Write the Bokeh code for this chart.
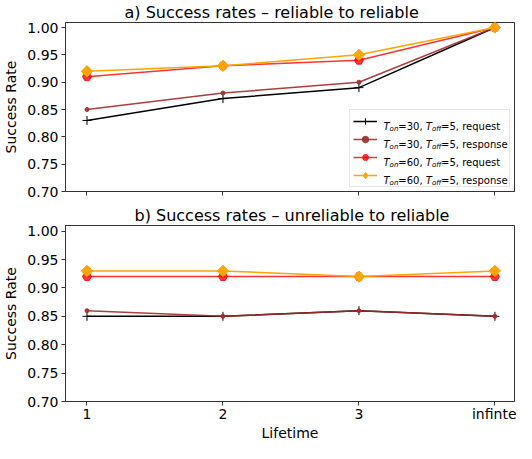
import math
from bokeh.plotting import figure
from bokeh.layouts import column
from bokeh.models import Range1d, FixedTicker, PrintfTickFormatter, Legend, LegendItem, Label
from bokeh.embed import file_html
from bokeh.resources import INLINE

# ---------------- data ----------------
lifetimes = ["1", "2", "3", "infinte"]
y_ticks = [0.70, 0.75, 0.80, 0.85, 0.90, 0.95, 1.00]

# a) reliable to reliable
a_req30 = [0.83, 0.87, 0.89, 1.00]
a_resp30 = [0.85, 0.88, 0.90, 1.00]
a_req60 = [0.91, 0.93, 0.94, 1.00]
a_resp60 = [0.92, 0.93, 0.95, 1.00]

# b) unreliable to reliable
b_req30 = [0.85, 0.85, 0.86, 0.85]
b_resp30 = [0.86, 0.85, 0.86, 0.85]
b_req60 = [0.92, 0.92, 0.92, 0.92]
b_resp60 = [0.93, 0.93, 0.92, 0.93]

t_on = [30, 30, 60, 60]
t_off = [5, 5, 5, 5]
kinds = ["request", "response", "request", "response"]

title_a = "a) Success rates \u2013 reliable to reliable"
title_b = "b) Success rates \u2013 unreliable to reliable"
y_label = "Success Rate"
x_label = "Lifetime"

FONT = "DejaVu Sans"
x_idx = list(range(len(lifetimes)))

styles = [
    dict(color="black", alpha=1.0, marker="cross", size=9, leg=None),
    dict(color="#a52a2a", alpha=0.9, marker="circle", size=4, leg=None),
    dict(color="red", alpha=0.8, marker="hex", size=9, leg=None),
    dict(color="#ffa500", alpha=1.0, marker="square", size=8, leg="diamond"),
]


def make_fig(title, height, b_top, b_bottom, t_offset, y_end, series, show_x):
    p = figure(width=516, height=height, output_backend="svg", toolbar_location=None,
               x_range=Range1d(-0.158, 3.144), y_range=Range1d(0.70, y_end),
               min_border_left=59, min_border_right=2,
               min_border_top=b_top, min_border_bottom=b_bottom)
    p.title.text = title
    p.title.text_font = FONT
    p.title.text_font_size = "16px"
    p.title.text_font_style = "normal"
    p.title.text_color = "black"
    p.title.align = "left"
    p.title.offset = t_offset
    p.title.standoff = 1
    p.xgrid.visible = False
    p.ygrid.visible = False
    p.outline_line_color = "#333333"
    p.outline_line_width = 1
    p.background_fill_color = "white"
    p.border_fill_color = "white"

    for ax in (p.xaxis[0], p.yaxis[0]):
        ax.axis_line_color = "#333333"
        ax.major_tick_line_color = "#333333"
        ax.major_tick_out = 4
        ax.major_tick_in = 0
        ax.minor_tick_out = 0
        ax.minor_tick_in = 0
        ax.major_label_text_font = FONT
        ax.major_label_text_font_size = "14px"
        ax.major_label_text_color = "black"
        ax.axis_label_text_font = FONT
        ax.axis_label_text_font_size = "14px"
        ax.axis_label_text_font_style = "normal"
        ax.axis_label_text_color = "black"

    p.yaxis.ticker = FixedTicker(ticks=y_ticks)
    p.yaxis.formatter = PrintfTickFormatter(format="%.2f")
    p.yaxis.axis_label = y_label
    p.yaxis.major_label_standoff = 3
    p.yaxis.axis_label_standoff = 5

    p.xaxis.ticker = FixedTicker(ticks=x_idx)
    if show_x:
        p.xaxis.major_label_overrides = {i: lab for i, lab in zip(x_idx, lifetimes)}
        p.xaxis.axis_label = x_label
        p.xaxis.major_label_standoff = 0
        p.xaxis.axis_label_standoff = 0
    else:
        p.xaxis.major_label_overrides = {i: "" for i in x_idx}
        p.xaxis.major_label_standoff = 0
        p.xaxis.major_label_text_font_size = "0px"

    items = []
    for ys, st in zip(series, styles):
        ln = p.line(x_idx, ys, line_color=st["color"], line_alpha=st["alpha"], line_width=1.5)
        proxy = None
        if st["leg"]:
            # legend proxy (legend draws markers unrotated); hidden under the real marker
            proxy = p.scatter(x_idx, ys, marker=st["leg"], size=st["size"] + 2,
                              line_color=st["color"], fill_color=st["color"],
                              line_alpha=st["alpha"], fill_alpha=st["alpha"], line_width=1.0)
        angle = math.pi / 4 if st["marker"] == "square" else 0.0
        mk = p.scatter(x_idx, ys, marker=st["marker"], size=st["size"], angle=angle,
                       line_color=st["color"], fill_color=st["color"],
                       line_alpha=st["alpha"], fill_alpha=st["alpha"], line_width=1.0)
        items.append(LegendItem(label=" ", renderers=[ln, proxy if proxy is not None else mk]))
    return p, items


top, items_a = make_fig(title_a, 201, 19, 10, 59, 1.0092,
                        [a_req30, a_resp30, a_req60, a_resp60], False)
bot, _ = make_fig(title_b, 242, 24, 36, 69, 1.010,
                  [b_req30, b_resp30, b_req60, b_resp60], True)

# legend (swatches from Bokeh, mathtext-like labels overlaid)
MARGIN = 4
PAD, GW, GH, SP, STAND, LW = 3, 24, 16, 2, 5, 124
legend = Legend(items=items_a, location="bottom_right", orientation="vertical",
                padding=PAD, spacing=SP, glyph_width=GW, glyph_height=GH,
                label_height=GH, label_width=LW, label_standoff=STAND, margin=MARGIN,
                border_line_color="#cccccc", border_line_width=1,
                background_fill_color="white", background_fill_alpha=0.0,
                label_text_font=FONT, label_text_font_size="10px")
top.add_layout(legend)

W = {"T": 0.611, "o": 0.612, "n": 0.634, "f": 0.352, "=": 0.838, "0": 0.636,
     "1": 0.636, "2": 0.636, "3": 0.636, "4": 0.636, "5": 0.636, "6": 0.636,
     "7": 0.636, "8": 0.636, "9": 0.636, ",": 0.318, " ": 0.318, "r": 0.411,
     "e": 0.615, "q": 0.635, "u": 0.634, "s": 0.521, "t": 0.392, "p": 0.635}


def tw(s, size):
    return sum(W.get(c, 0.6) for c in s) * size


n_rows = len(kinds)
leg_h = 2 * PAD + n_rows * GH + (n_rows - 1) * SP
leg_w = 2 * PAD + GW + STAND + LW
text_from_right = MARGIN + leg_w - PAD - GW - STAND
for i in range(n_rows):
    center = MARGIN + leg_h - PAD - GH / 2 - i * (GH + SP)
    base = center - 3.6
    pieces = [("T", 10, "italic", 0), ("on", 7, "italic", -2.5),
              ("=%d, " % t_on[i], 10, "normal", 0),
              ("T", 10, "italic", 0), ("off", 7, "italic", -2.5),
              ("=%d, %s" % (t_off[i], kinds[i]), 10, "normal", 0)]
    dx = 0.0
    for txt, sz, sty, dy in pieces:
        top.add_layout(Label(x=top.x_range.end, y=top.y_range.start,
                             x_offset=-text_from_right + dx, y_offset=base + dy,
                             text=txt, text_font=FONT, text_font_size="%dpx" % sz,
                             text_font_style=sty, text_color="black", level="overlay",
                             text_baseline="alphabetic", text_align="left"))
        dx += tw(txt, sz)

layout = column(top, bot, spacing=0)
open("out.html", "w").write(file_html(layout, INLINE))
